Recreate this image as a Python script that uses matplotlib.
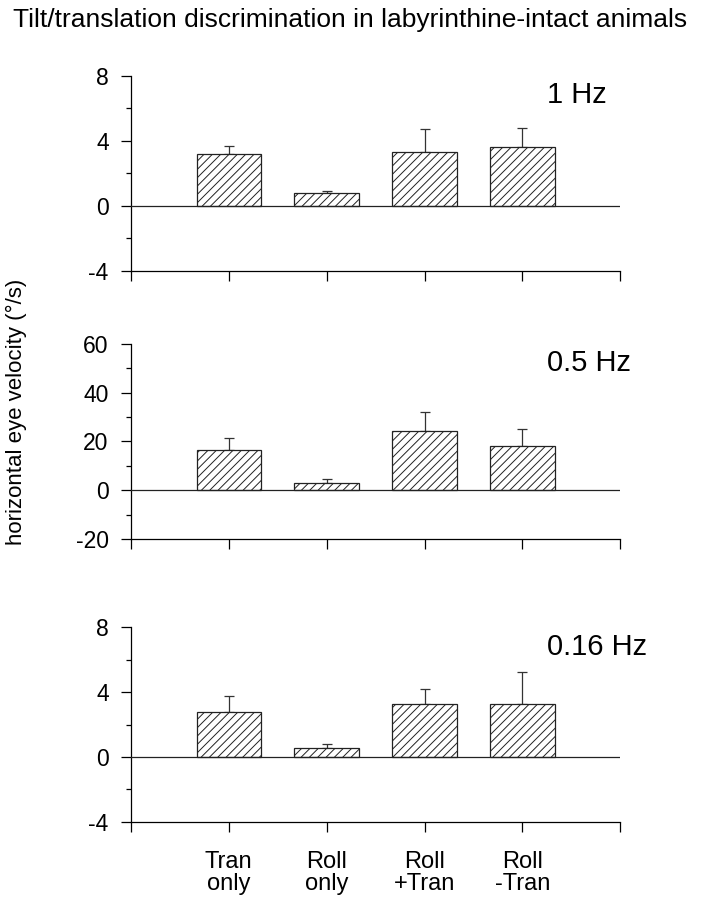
import matplotlib
matplotlib.use('Agg')
import matplotlib.pyplot as plt
import numpy as np

# %% Data
conditions = ['Tran\nonly', 'Roll\nonly', 'Roll\n+Tran', 'Roll\n-Tran']
freq_labels = ['1 Hz', '0.5 Hz', '0.16 Hz']

vel_1hz = [3.18, 0.78, 3.32, 3.61]
err_1hz = [0.51, 0.16, 1.38, 1.19]

vel_05hz = [16.5, 3.0, 24.2, 18.3]
err_05hz = [5.0, 1.5, 7.8, 6.8]

vel_016hz = [2.76, 0.54, 3.29, 3.25]
err_016hz = [1.0, 0.24, 0.88, 1.97]

ylims = [(-4, 8), (-20, 60), (-4, 8)]
yticks = [[-4, 0, 4, 8], [-20, 0, 20, 40, 60], [-4, 0, 4, 8]]
yminor = [[-2, 2, 6], [-10, 10, 30, 50], [-2, 2, 6]]

# %% Plot settings
matplotlib.rcParams['font.family'] = ['Liberation Sans', 'DejaVu Sans']
matplotlib.rcParams['hatch.linewidth'] = 0.7
matplotlib.rcParams['axes.linewidth'] = 0.9
matplotlib.rcParams['axes.unicode_minus'] = False

fig = plt.figure(figsize=(7.04, 9.0), dpi=100)

# axes boxes in figure fraction (left, bottom, width, height)
boxes = [(0.186, 0.699, 0.695, 0.217),
         (0.186, 0.401, 0.695, 0.217),
         (0.186, 0.087, 0.695, 0.216)]

values = [vel_1hz, vel_05hz, vel_016hz]
errors = [err_1hz, err_05hz, err_016hz]
x = np.arange(1, len(conditions) + 1)

for i in range(3):
    ax = fig.add_axes(boxes[i])
    ax.bar(x, values[i], width=0.66, color='white', edgecolor='#222222',
           linewidth=0.9, hatch='////', zorder=2)
    ax.errorbar(x, values[i], yerr=[np.zeros(len(x)), errors[i]], fmt='none',
                ecolor='#333333', elinewidth=0.9, capsize=3.5, capthick=0.9,
                zorder=1)
    ax.axhline(0, color='#222222', linewidth=0.9, zorder=3)
    ax.set_xlim(0, 5)
    ax.set_ylim(*ylims[i])
    ax.set_yticks(yticks[i])
    ax.set_yticks(yminor[i], minor=True)
    ax.set_xticks(np.arange(0, 6))
    if i == 2:
        ax.set_xticklabels([''] + conditions + [''], fontsize=17,
                           linespacing=1.0)
    else:
        ax.set_xticklabels([])
    ax.spines['top'].set_visible(False)
    ax.spines['right'].set_visible(False)
    ax.tick_params(axis='y', which='major', length=7, width=0.9,
                   labelsize=16.5, pad=9)
    ax.tick_params(axis='y', which='minor', length=3.5, width=0.9)
    ax.tick_params(axis='x', which='major', length=7, width=0.9, pad=14)
    ax.text(0.85, 0.9, freq_labels[i], transform=ax.transAxes, fontsize=21,
            ha='left', va='center')

fig.text(0.023, 1 - 412 / 900, 'horizontal eye velocity (°/s)', rotation=90,
         ha='center', va='center', fontsize=16)
fig.text(0.497, 1 - 20 / 900,
         'Tilt/translation discrimination in labyrinthine-intact animals',
         ha='center', va='center', fontsize=19)

plt.savefig('out.png', dpi=100)
